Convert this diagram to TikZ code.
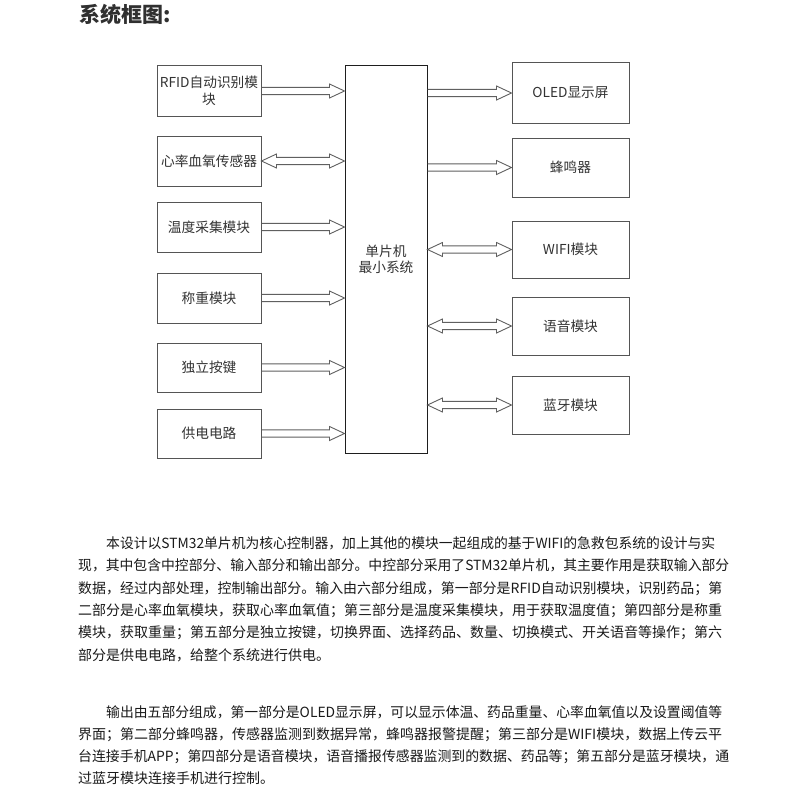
\documentclass[tikz,border=0pt]{standalone}
\usepackage{fontspec}
\usepackage{graphicx}
\setmainfont{Noto Sans CJK SC}
\usetikzlibrary{calc}
\definecolor{boxc}{HTML}{555555}
\definecolor{mcuc}{HTML}{1E1E1E}
\definecolor{arrowc}{HTML}{606060}
\definecolor{txtc}{HTML}{1A1A1A}
\definecolor{labelc}{HTML}{333333}
\definecolor{titlec}{HTML}{303030}
\tikzset{
  modbox/.style={draw=boxc, line width=1pt, rectangle, inner sep=1pt, align=center,
    text=labelc, font=\fontsize{13.7}{17.4}\selectfont},
  mcubox/.style={draw=mcuc, line width=1pt, rectangle, inner sep=0pt, align=center,
    text=labelc, font=\fontsize{13.7}{16.5}\selectfont},
  onearrow/.style={draw=arrowc, line width=0.9pt, line join=miter,
    to path={let \p1=(\tikztostart), \p2=(\tikztotarget) in
      (\x1,\y1+3.6pt) -- (\x2-15pt,\y1+3.6pt) -- (\x2-15pt,\y1+7pt) -- (\x2,\y1)
      -- (\x2-15pt,\y1-7pt) -- (\x2-15pt,\y1-3.6pt) -- (\x1,\y1-3.6pt)}},
  twoarrow/.style={draw=arrowc, line width=0.9pt, line join=miter,
    to path={let \p1=(\tikztostart), \p2=(\tikztotarget) in
      (\x1,\y1) -- (\x1+15pt,\y1+7pt) -- (\x1+15pt,\y1+3.6pt) -- (\x2-15pt,\y1+3.6pt)
      -- (\x2-15pt,\y1+7pt) -- (\x2,\y1) -- (\x2-15pt,\y1-7pt) -- (\x2-15pt,\y1-3.6pt)
      -- (\x1+15pt,\y1-3.6pt) -- (\x1+15pt,\y1-7pt) -- cycle}},
  para/.style={anchor=base west, inner sep=0pt, text=txtc, font=\fontsize{14}{16}\selectfont},
  titletxt/.style={anchor=base west, inner sep=0pt, text=titlec, font=\fontsize{21}{25}\selectfont\bfseries}
}
\begin{document}
\begin{tikzpicture}[x=1pt,y=-1pt]
\useasboundingbox[fill=white] (0,0) rectangle (800,800);

\node[titletxt] (title) at (79,23) {系统框图:};

% left modules
\node[modbox, minimum width=104pt, minimum height=50pt] (rfid) at (209,91) {RFID自动识别模\\块};
\node[modbox, minimum width=104pt, minimum height=50pt] (xl) at (209,161) {心率血氧传感器};
\node[modbox, minimum width=104pt, minimum height=50pt] (temp) at (209,227) {温度采集模块};
\node[modbox, minimum width=104pt, minimum height=50pt] (weight) at (209,298) {称重模块};
\node[modbox, minimum width=104pt, minimum height=49pt] (key) at (209,367.5) {独立按键};
\node[modbox, minimum width=104pt, minimum height=49pt] (power) at (209,433.5) {供电电路};

% central
\node[mcubox, minimum width=82pt, minimum height=387pt] (mcu) at (386,259.5) {单片机\\最小系统};

% right modules
\node[modbox, minimum width=117pt, minimum height=60pt] (oled) at (570.5,93) {OLED显示屏};
\node[modbox, minimum width=117pt, minimum height=59pt] (buzz) at (570.5,167.5) {蜂鸣器};
\node[modbox, minimum width=117pt, minimum height=57pt] (wifi) at (570.5,249.5) {WIFI模块};
\node[modbox, minimum width=117pt, minimum height=58pt] (voice) at (570.5,326) {语音模块};
\node[modbox, minimum width=117pt, minimum height=58pt] (bt) at (570.5,405) {蓝牙模块};

% arrows
\draw[onearrow] (rfid.east) to (rfid.east -| mcu.west);
\draw[twoarrow] (xl.east) to (xl.east -| mcu.west);
\draw[onearrow] (temp.east) to (temp.east -| mcu.west);
\draw[onearrow] (weight.east) to (weight.east -| mcu.west);
\draw[onearrow] (key.east) to (key.east -| mcu.west);
\draw[onearrow] (power.east) to (power.east -| mcu.west);
\draw[onearrow] (mcu.east |- oled.west) to (oled.west);
\draw[onearrow] (mcu.east |- buzz.west) to (buzz.west);
\draw[twoarrow] (mcu.east |- wifi.west) to (wifi.west);
\draw[twoarrow] (mcu.east |- voice.west) to (voice.west);
\draw[twoarrow] (mcu.east |- bt.west) to (bt.west);

% paragraph 1
\node[para] (p1a) at (106,548.6) {\resizebox{609pt}{\height}{本设计以STM32单片机为核心控制器，加上其他的模块一起组成的基于WIFI的急救包系统的设计与实}};
\node[para] (p1b) at (78,570.9) {\resizebox{651pt}{\height}{现，其中包含中控部分、输入部分和输出部分。中控部分采用了STM32单片机，其主要作用是获取输入部分}};
\node[para] (p1c) at (78,593.2) {\resizebox{644pt}{\height}{数据，经过内部处理，控制输出部分。输入由六部分组成，第一部分是RFID自动识别模块，识别药品；第}};
\node[para] (p1d) at (78,615.5) {\resizebox{644pt}{\height}{二部分是心率血氧模块，获取心率血氧值；第三部分是温度采集模块，用于获取温度值；第四部分是称重}};
\node[para] (p1e) at (78,637.8) {\resizebox{644pt}{\height}{模块，获取重量；第五部分是独立按键，切换界面、选择药品、数量、切换模式、开关语音等操作；第六}};
\node[para] (p1f) at (78,660.1) {部分是供电电路，给整个系统进行供电。};

% paragraph 2
\node[para] (p2a) at (106,717) {\resizebox{616pt}{\height}{输出由五部分组成，第一部分是OLED显示屏，可以显示体温、药品重量、心率血氧值以及设置阈值等}};
\node[para] (p2b) at (78,739.3) {\resizebox{644pt}{\height}{界面；第二部分蜂鸣器，传感器监测到数据异常，蜂鸣器报警提醒；第三部分是WIFI模块，数据上传云平}};
\node[para] (p2c) at (78,761.6) {\resizebox{651pt}{\height}{台连接手机APP；第四部分是语音模块，语音播报传感器监测到的数据、药品等；第五部分是蓝牙模块，通}};
\node[para] (p2d) at (78,783.9) {过蓝牙模块连接手机进行控制。};
\end{tikzpicture}
\end{document}
